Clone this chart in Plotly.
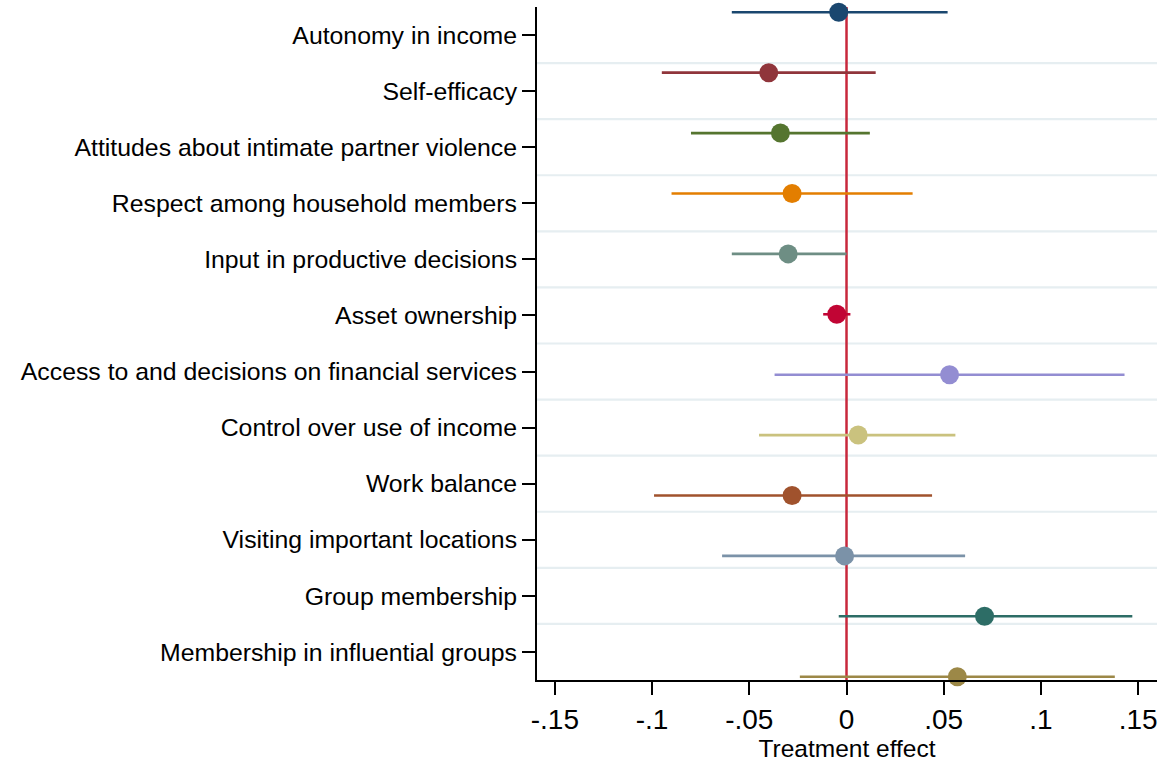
import plotly.graph_objects as go

# Outcome indices, top to bottom
outcomes = [
    "Autonomy in income",
    "Self-efficacy",
    "Attitudes about intimate partner violence",
    "Respect among household members",
    "Input in productive decisions",
    "Asset ownership",
    "Access to and decisions on financial services",
    "Control over use of income",
    "Work balance",
    "Visiting important locations",
    "Group membership",
    "Membership in influential groups",
]

# Point estimates and 95% confidence bounds
estimates = [-0.004, -0.040, -0.034, -0.028, -0.030, -0.005, 0.053, 0.006, -0.028, -0.001, 0.071, 0.057]
ci_low = [-0.059, -0.095, -0.080, -0.090, -0.059, -0.012, -0.037, -0.045, -0.099, -0.064, -0.004, -0.024]
ci_high = [0.052, 0.015, 0.012, 0.034, 0.000, 0.002, 0.143, 0.056, 0.044, 0.061, 0.147, 0.138]

# Stata s2color-style series colours
colors = ["#1a476f", "#90353b", "#55752f", "#e37e00", "#6e8e84", "#c10534",
          "#938dd2", "#cac27e", "#a0522d", "#7b92a8", "#2d6d66", "#9c8847"]

# x-axis ticks
x_tickvals = [-0.15, -0.10, -0.05, 0.0, 0.05, 0.10, 0.15]
x_ticktext = ["-.15", "-.1", "-.05", "0", ".05", ".1", ".15"]

n = len(outcomes)
label_pos = list(range(1, n + 1))
# markers are spread on a slightly wider spacing than the labels
marker_pos = [0.594 + 1.077 * k for k in range(n)]

fig = go.Figure()

for k in range(n):
    fig.add_trace(go.Scatter(
        x=[estimates[k]],
        y=[marker_pos[k]],
        mode="markers",
        marker=dict(size=19, color=colors[k], line=dict(width=0)),
        error_x=dict(
            type="data",
            symmetric=False,
            array=[ci_high[k] - estimates[k]],
            arrayminus=[estimates[k] - ci_low[k]],
            color=colors[k],
            thickness=2.6,
            width=0,
        ),
        showlegend=False,
        cliponaxis=False,
    ))

shapes = []
# light separators between rows
for g in range(1, n):
    shapes.append(dict(
        type="line", xref="paper", x0=0, x1=1, yref="y", y0=g + 0.5, y1=g + 0.5,
        line=dict(color="#e6eef1", width=2.2), layer="below",
    ))
# reference line at zero effect
shapes.append(dict(
    type="line", xref="x", x0=0, x1=0, yref="paper", y0=0, y1=1,
    line=dict(color="#c8283c", width=2.5), layer="below",
))

font_family = "Liberation Sans, Arial, Helvetica, sans-serif"

fig.update_layout(
    width=1168,
    height=765,
    margin=dict(l=537, r=11, t=7, b=81),
    paper_bgcolor="white",
    plot_bgcolor="white",
    font=dict(family=font_family, color="black"),
    shapes=shapes,
    xaxis=dict(
        range=[-0.1592, 0.1597],
        tickmode="array",
        tickvals=x_tickvals,
        ticktext=x_ticktext,
        tickfont=dict(size=28, color="black"),
        ticks="outside",
        ticklen=13,
        tickwidth=2,
        tickcolor="black",
        showline=True,
        linecolor="black",
        linewidth=2,
        showgrid=False,
        zeroline=False,
        title=dict(text="Treatment effect", font=dict(size=24.5, color="black"), standoff=6),
    ),
    yaxis=dict(
        range=[12.5, 0.5],
        tickmode="array",
        tickvals=label_pos,
        ticktext=outcomes,
        tickfont=dict(size=24.8, color="black"),
        ticks="outside",
        ticklen=13,
        tickwidth=2,
        tickcolor="black",
        ticklabelstandoff=0,
        showline=True,
        linecolor="black",
        linewidth=2,
        showgrid=False,
        zeroline=False,
    ),
)

fig.write_html("out.html")
